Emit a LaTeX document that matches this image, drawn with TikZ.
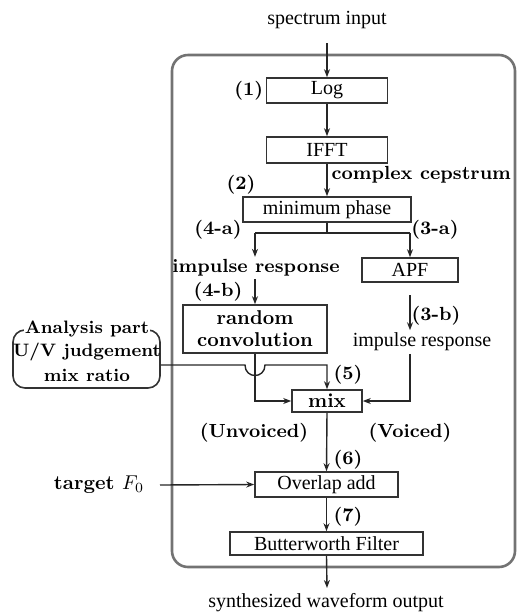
\documentclass[tikz,border=0pt]{standalone}
\usepackage{fontspec}
\setmainfont{Liberation Serif}
\newfontfamily\lmfont{Latin Modern Roman}
\usetikzlibrary{arrows.meta,calc}
\begin{document}
\begin{tikzpicture}[x=0.5pt,y=-0.5pt,
  line width=0.7pt, draw=black!85,
  >={Stealth[length=4pt,width=3pt]},
  blk/.style={draw=black!80, line width=0.8pt, inner sep=0pt},
  lbl/.style={inner sep=1pt, font=\lmfont\fontsize{9.5}{11}\selectfont\bfseries},
  albl/.style={inner sep=1pt, font=\lmfont\fontsize{9}{10.5}\selectfont\bfseries},
  txt/.style={inner sep=1pt},
  frm/.style={draw=black!55, line width=1.3pt, rounded corners=8pt}]
\useasboundingbox (0,0) rectangle (517,612);
% frame
\path[frm] (172,55) rectangle (515,567);
% texts and boxes
\node[txt] (sin) at (327,20) {spectrum input};
\coordinate (sinA) at (327,43);
\node[blk, minimum width=60.5pt, minimum height=12.5pt] (log) at (327,90.5) {Log};
\node[lbl, anchor=east] (l1) at (log.west) {(1)};
\node[blk, minimum width=60.5pt, minimum height=13pt] (ifft) at (327,150) {IFFT};
\node[lbl, anchor=west] (cc) at (329,175) {complex cepstrum};
\node[lbl] (l2) at (241,185) {(2)};
\node[blk, minimum width=84pt, minimum height=12.5pt] (mp) at (327,209.5) {minimum phase};
\coordinate (br) at (327,233);
\coordinate (brL) at (255,233);
\coordinate (brR) at (410,233);
\node[lbl] (l4a) at (218,230) {(4-a)};
\node[lbl] (l3a) at (435,230) {(3-a)};
\node[lbl] (impL) at (256,268) {impulse response};
\node[blk, minimum width=48pt, minimum height=12pt] (apf) at (410,270) {APF};
\node[lbl] (l4b) at (218,292) {(4-b)};
\node[blk, minimum width=72pt, minimum height=24pt, align=center, font=\lmfont\bfseries] (rc) at (255,329) {random\\[-1pt]convolution};
\coordinate (apfB) at (410,295);
\node[lbl] (l3b) at (436,316) {(3-b)};
\node[txt] (impR) at (422,342) {impulse response};
% analysis box
\node[draw=black!80, line width=0.8pt, rounded corners=6pt, minimum width=73.5pt, minimum height=29pt] (ana) at (86.5,359) {};
\node[albl, fill=white, inner sep=0.3pt] (ana1) at (87,329) {Analysis part};
\node[albl] (ana2) at (87,352) {U/V judgement};
\node[albl] (ana3) at (87,375) {mix ratio};
\node[lbl] (l5) at (348,375) {(5)};
\node[blk, minimum width=35pt, minimum height=11pt, font=\lmfont\bfseries] (mix) at (327,401) {mix};
\node[lbl] (unv) at (254,433) {(Unvoiced)};
\node[lbl] (voi) at (410,433) {(Voiced)};
\node[lbl] (l6) at (348,460) {(6)};
\node[blk, minimum width=71.5pt, minimum height=12.5pt] (ola) at (326.5,484.5) {Overlap add};
\node[txt] (tf) at (99,485) {\lmfont\bfseries target $F_0$};
\coordinate (tfA) at (160,485);
\node[lbl] (l7) at (348,517) {(7)};
\node[blk, minimum width=96.5pt, minimum height=11.5pt] (bw) at (326.5,543.5) {Butterworth Filter};
\coordinate (outA) at (327,588);
\node[txt] (out) at (326,603) {synthesized waveform output};
% connectors
\draw[->] (sinA) -- (log.north);
\draw[->] (log.south) -- (ifft.north);
\draw[->] (ifft.south) -- (mp.north);
\draw (mp.south) -- (br);
\draw (brL) -- (brR);
\draw[->] (brL) -- (impL.north -| brL);
\draw[->] (brR) -- (apf.north);
\draw[->] (impL.south -| rc.north) -- (rc.north);
\draw[->] (apfB) -- (impR.north -| apfB);
\draw[->] (impR.south -| apfB) -- (apfB |- mix.east) -- (mix.east);
\draw[->] (rc.south) -- (rc.south |- mix.west) -- (mix.west);
\draw[->] ($(ana.east)+(0,6)$) -- (245,365) .. controls (245,379) and (265,379) .. (265,365) -- (327,365) -- (mix.north);
\draw[->] (mix.south) -- (ola.north);
\draw[->] (tfA) -- (ola.west);
\draw[->] (ola.south) -- (bw.north);
\draw[->] (bw.south) -- (outA);
\end{tikzpicture}
\end{document}
